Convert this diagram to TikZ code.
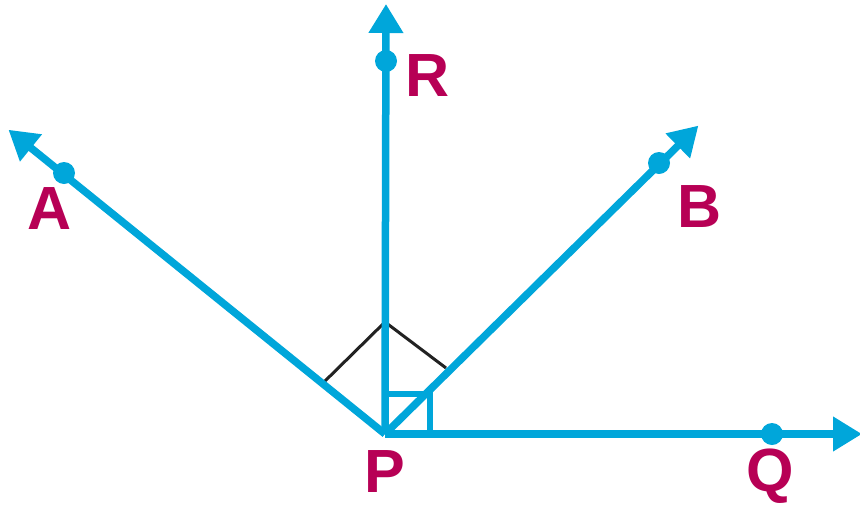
\documentclass[tikz,border=0pt]{standalone}
\usepackage{fontspec}
\setmainfont{Liberation Sans}
\usetikzlibrary{arrows.meta}
\definecolor{rayblue}{RGB}{0,166,218}
\definecolor{labred}{RGB}{183,0,85}
\definecolor{markgray}{RGB}{34,34,34}
\begin{document}
\begin{tikzpicture}[x=1pt,y=-1pt,
  ray/.style={draw=rayblue,line width=7.5pt,-{Triangle[length=29pt,width=33pt]},shorten >=-2pt},
  ptdot/.style={circle,fill=rayblue,inner sep=0pt,minimum size=22pt},
  lab/.style={text=labred,font=\fontsize{61}{61}\selectfont\bfseries,inner sep=0pt},
  sqline/.style={draw=rayblue,line width=6pt},
  markline/.style={draw=markgray,line width=3pt}]
\useasboundingbox (0,0) rectangle (860,504);
\coordinate (P) at (385,434);
\coordinate (Rtip) at (386,6);
\coordinate (Atip) at (10,131);
\coordinate (Btip) at (697,127);
\coordinate (Qtip) at (860,434);
% angle marks
\coordinate (m1) at (323,383);
\coordinate (m2) at (385,322);
\coordinate (m3) at (446,368);
\draw[markline] (m1) -- (m2) -- (m3);
% right-angle square
\coordinate (s1) at (385,394);
\coordinate (s2) at (430,394);
\coordinate (s3) at (430,434);
\draw[sqline] (s1) -- (s2) -- (s3);
% rays
\draw[ray] (P) -- (Rtip);
\draw[ray] (P) -- (Atip);
\draw[ray] (P) -- (Btip);
\draw[ray] (P) -- (Qtip);
% points
\node[ptdot] (R) at (386,61) {};
\node[ptdot] (A) at (64,173) {};
\node[ptdot] (B) at (659,163) {};
\node[ptdot] (Q) at (772,434) {};
% labels
\node[lab] (Rl) at (428,76) {R};
\node[lab] (Al) at (50,209) {A};
\node[lab] (Bl) at (700,207) {B};
\node[lab] (Ql) at (770,476) {Q};
\node[lab] (Pl) at (385,472) {P};
\end{tikzpicture}
\end{document}
